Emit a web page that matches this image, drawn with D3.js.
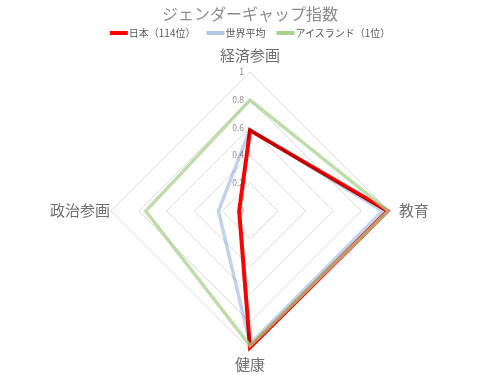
<!DOCTYPE html>
<html>
<head>
<meta charset="utf-8">
<script src="https://cdn.jsdelivr.net/npm/d3@7"></script>
<style>
body { margin: 0; background: #fff; }
svg { font-family: "Noto Sans CJK JP", "Noto Sans", sans-serif; }
</style>
</head>
<body>
<svg width="500" height="375"></svg>
<script>
// axes, clockwise from the top
var categories = ["経済参画", "教育", "健康", "政治参画"];
var seriesNames = ["日本（114位）", "世界平均", "アイスランド（1位）"];
var japan = [0.580, 0.991, 0.980, 0.078];
var world = [0.585, 0.953, 0.956, 0.227];
var iceland = [0.798, 0.995, 0.969, 0.750];
var ticks = [0, 0.2, 0.4, 0.6, 0.8, 1];

var svg = d3.select("svg");
var cx = 250, cy = 211, R = 139;

var r = d3.scaleLinear().domain([0, 1]).range([0, R]);
var angle = d3.scalePoint().domain(categories).range([0, 2 * Math.PI * 3 / 4]);

function pt(cat, v) {
  var a = angle(cat) - Math.PI / 2;
  return [cx + r(v) * Math.cos(a), cy + r(v) * Math.sin(a)];
}

// grid rings
var g = svg.append("g");
ticks.slice(1).forEach(function(t) {
  g.append("path")
    .attr("d", d3.line()(categories.map(function(c) { return pt(c, t); })) + "Z")
    .attr("fill", "none")
    .attr("stroke", "#d9d9d9")
    .attr("stroke-width", 1);
});

// tick labels
g.selectAll(".tick").data(ticks).enter().append("text")
  .attr("x", cx - 6)
  .attr("y", function(d) { return cy - r(d) + 3; })
  .attr("text-anchor", "end")
  .attr("font-size", 8.5)
  .attr("fill", "#8c8c8c")
  .text(function(d) { return d; });

// series
var series = [
  { name: seriesNames[0], values: japan, color: "#ff0000", w: 4, op: 1 },
  { name: seriesNames[1], values: world, color: "#b4c7e7", w: 3.5, op: 0.8 },
  { name: seriesNames[2], values: iceland, color: "#a9d18e", w: 3.5, op: 0.75 }
];

series.forEach(function(s, i) {
  svg.append("path")
    .attr("d", d3.line()(categories.map(function(c, j) { return pt(c, s.values[j]); })) + "Z")
    .attr("fill", "none")
    .attr("stroke", s.color)
    .attr("stroke-width", s.w)
    .attr("stroke-opacity", s.op)
    .attr("stroke-linejoin", "miter")
    .style("mix-blend-mode", i == 1 ? "multiply" : null);
});

// category labels
var lab = [
  { x: cx, y: 61, a: "middle" },
  { x: 399, y: 216, a: "start" },
  { x: cx, y: 370, a: "middle" },
  { x: 110, y: 216, a: "end" }
];
categories.forEach(function(c, i) {
  svg.append("text")
    .attr("x", lab[i].x).attr("y", lab[i].y)
    .attr("text-anchor", lab[i].a)
    .attr("font-size", 15)
    .attr("fill", "#6f6f6f")
    .text(c);
});

// title
svg.append("text")
  .attr("x", 250).attr("y", 20)
  .attr("text-anchor", "middle")
  .attr("font-size", 16)
  .attr("fill", "#8c8c8c")
  .text("ジェンダーギャップ指数");

// legend, laid out from measured text widths
var leg = svg.append("g");
var x = 0, gap = 11;
series.forEach(function(s, i) {
  leg.append("line")
    .attr("x1", x).attr("x2", x + 18)
    .attr("y1", 33).attr("y2", 33)
    .attr("stroke", s.color)
    .attr("stroke-width", 4);
  var t = leg.append("text")
    .attr("x", x + 19).attr("y", 37)
    .attr("font-size", 10)
    .attr("fill", "#595959")
    .text(s.name);
  x += 19 + t.node().getComputedTextLength() + gap;
});
var total = x - gap;
leg.attr("transform", "translate(" + (250 - total / 2) + ",0)");
</script>
</body>
</html>
